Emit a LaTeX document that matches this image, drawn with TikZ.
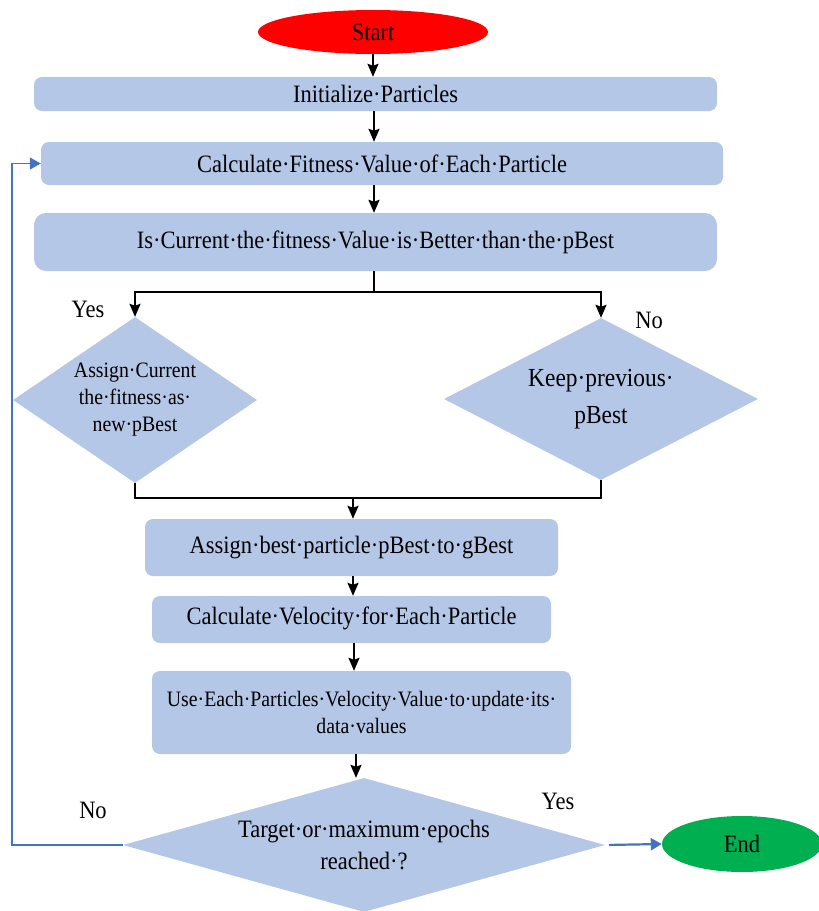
\documentclass[tikz,border=0pt]{standalone}
\usepackage{fontspec}
\setmainfont[FakeStretch=0.9]{Liberation Serif}
\usetikzlibrary{arrows.meta,shapes.geometric}
\definecolor{boxB}{HTML}{B4C7E7}
\definecolor{startR}{HTML}{FF0000}
\definecolor{endG}{HTML}{00B050}
\definecolor{loopB}{HTML}{4472C4}
\tikzset{
  flow/.style={-{Stealth[length=13pt,width=11pt,inset=2pt]}, line width=2pt},
  bar/.style={line width=2pt},
  back/.style={-{Triangle[length=11pt,width=12pt]}, loopB, line width=1.2pt},
  procbox/.style={fill=boxB, rounded corners=8pt, inner sep=0pt, align=center},
  decide/.style={diamond, fill=boxB, inner sep=0pt, align=center},
  term/.style={ellipse, inner sep=0pt},
  lab/.style={font=\fontsize{25}{29}\selectfont},
  slab/.style={font=\fontsize{22}{27}\selectfont},
}

\begin{document}
\begin{tikzpicture}[x=1pt,y=-1pt,every node/.style={lab}]
\useasboundingbox (0,0) rectangle (819,911);

% ---- top column ------------------------------------------------------------
\node[term, fill=startR, minimum width=230, minimum height=44] (start) at (373,32) {Start};
\node[procbox, minimum width=683, minimum height=34] (init) at (375.5,94) {Initialize·Particles};
\node[procbox, minimum width=682, minimum height=43] (fit) at (382,163.5) {Calculate·Fitness·Value·of·Each·Particle};
\node[procbox, rounded corners=12pt, minimum width=683, minimum height=58] (cmp) at (375.5,242)
  {Is·Current·the·fitness·Value·is·Better·than·the·pBest};
% ---- branches --------------------------------------------------------------
\node[decide, slab, aspect=1.47, minimum width=244, minimum height=166] (assign) at (135,400)
  {Assign·Current\\the·fitness·as·\\new·pBest};
\node[decide, font=\fontsize{26}{37}\selectfont, aspect=1.94, minimum width=314, minimum height=162] (keep) at (601,399)
  {Keep·previous·\\pBest};
\node (yesA) at (88,309) {Yes};
\node (noA) at (649,320) {No};
% ---- lower column ----------------------------------------------------------
\node[procbox, minimum width=413, minimum height=57] (gbest) at (351.5,547.5) {Assign·best·particle·pBest·to·gBest};
\node[procbox, minimum width=399, minimum height=47] (vel) at (351.5,619.5) {\raisebox{7pt}{Calculate·Velocity·for·Each·Particle}};
\node[procbox, slab, minimum width=419, minimum height=83] (upd) at (361.5,712.5)
  {Use·Each·Particles·Velocity·Value·to·update·its·\\data·values};
\node[decide, font=\fontsize{25}{32}\selectfont, aspect=3.6, minimum width=482, minimum height=134] (target) at (364,845)
  {Target·or·maximum·epochs\\reached·?};
\node[term, fill=endG, minimum width=160, minimum height=56] (end) at (742,844) {End};
\node (yesB) at (558,801) {Yes};
\node (noB) at (93,810) {No};
% ---- flow ------------------------------------------------------------------
\coordinate (fork) at (374,292);
\coordinate (join) at (353,498);
\coordinate (rail) at (12,0);
\draw[flow] (start.south) -- (start.south |- init.north);
\draw[flow] (init.south -| fork) -- (fork |- fit.north);
\draw[flow] (fit.south -| fork) -- (fork |- cmp.north);
\draw[bar] (cmp.south -| fork) -- (fork);
\draw[flow] (fork) -| (assign.north);
\draw[flow] (fork) -| (keep.north);
\draw[bar] (assign.south) |- (join);
\draw[bar] (keep.south) |- (join);
\draw[flow] (join) -- (join |- gbest.north);
\draw[flow] (gbest.south -| join) -- (join |- vel.north);
\draw[flow] ([xshift=1pt]vel.south -| join) -- ([xshift=1pt]join |- upd.north);
\draw[flow] ([xshift=3pt]upd.south -| join) -- ([xshift=3pt]join |- target.north);
\draw[back, line width=2.2pt, shorten <=4pt] (target.east) -- (end.west);
\draw[back] (target.west) -- (target.west -| rail) |- (fit.west);

\end{tikzpicture}
\end{document}
